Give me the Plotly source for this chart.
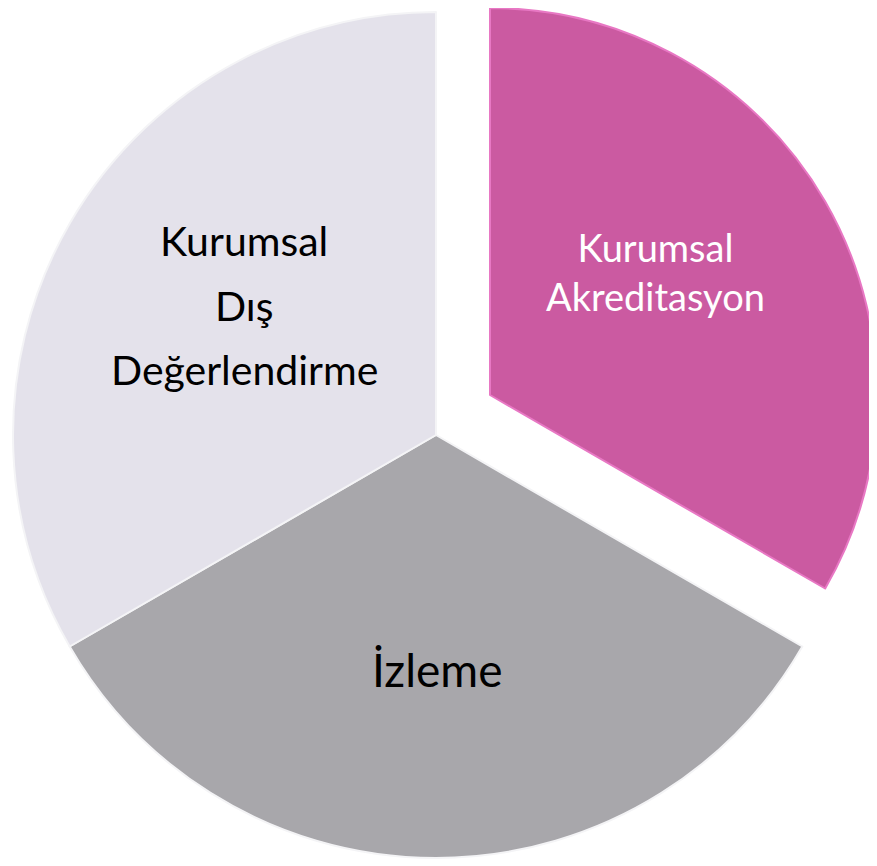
import plotly.graph_objects as go

# Data
labels = ["Kurumsal<br>Akreditasyon", "İzleme", "Kurumsal<br>Dış<br>Değerlendirme"]
values = [1, 1, 1]
colors = ["#CB5AA1", "#A8A7AB", "#E4E2EB"]
text_colors = ["#FFFFFF", "#000000", "#000000"]

W, H = 877, 866
OFF = 8  # page body margin

def px_dom(cx, cy, r):
    cx -= OFF
    cy -= OFF
    return dict(x=[max(0, (cx - r) / W), min(1, (cx + r) / W)],
                y=[max(0, 1 - (cy + r) / H), min(1, 1 - (cy - r) / H)])

fig = go.Figure()

# Main pie (grey slices), pulled slice left empty
fig.add_trace(go.Pie(
    labels=labels, values=values, sort=False, direction="clockwise", rotation=0,
    marker=dict(colors=["rgba(0,0,0,0)", colors[1], colors[2]],
                line=dict(color=["rgba(0,0,0,0)", "#F4F4F6", "#F4F4F6"], width=2)),
    textinfo="none", hoverinfo="label", showlegend=False,
    domain=px_dom(436, 435, 423),
))

# Exploded slice
fig.add_trace(go.Pie(
    labels=labels, values=values, sort=False, direction="clockwise", rotation=0,
    marker=dict(colors=[colors[0], "rgba(0,0,0,0)", "rgba(0,0,0,0)"],
                line=dict(color=["#E878C4", "rgba(0,0,0,0)", "rgba(0,0,0,0)"], width=2)),
    textinfo="none", hoverinfo="label", showlegend=False,
    domain=px_dom(490, 395, 387),
))

# Label placements: (page-pixel x, line centres, font size, split lines?)
label_pos = [(655, [271], 38, False), (437, [669], 46, True), (244, [241, 305, 369], 41, True)]

annotations = []
for lab, tc, (x, ys, fs, split) in zip(labels, text_colors, label_pos):
    lines = lab.split("<br>") if split else [lab]
    for line, y in zip(lines, ys):
        annotations.append(dict(
            x=(x - OFF) / W, y=1 - (y - OFF) / H, xref="paper", yref="paper",
            text=line, showarrow=False, xanchor="center", yanchor="middle",
            font=dict(family="Lato", size=fs, color=tc),
        ))

fig.update_layout(
    width=W, height=H, margin=dict(l=0, r=0, t=0, b=0),
    paper_bgcolor="white", plot_bgcolor="white",
    annotations=annotations,
)

fig.write_html("out.html")
